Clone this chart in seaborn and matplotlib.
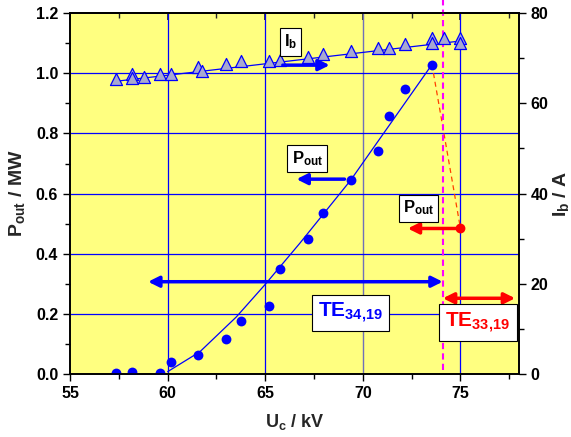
import matplotlib
matplotlib.use("Agg")
import matplotlib.pyplot as plt
import numpy as np
import pandas as pd
import seaborn as sns
from matplotlib.ticker import MultipleLocator, FormatStrFormatter

uc_pout = [57.35, 58.2, 59.6, 60.18, 61.58, 62.98, 63.78, 65.17, 65.77,
           67.18, 67.95, 69.37, 70.76, 71.36, 72.14, 73.54]
pout = [0.005, 0.008, 0.005, 0.039, 0.065, 0.115, 0.178, 0.227, 0.350,
        0.450, 0.534, 0.644, 0.742, 0.858, 0.947, 1.029]

# TE33,19 Punkt
uc_red = [75.0]
pout_red = [0.484]

# Strahlstrom
uc_ib = [57.37, 58.19, 58.19, 58.78, 59.6, 60.18, 61.58, 61.77, 62.98, 63.78,
         65.17, 65.77, 67.17, 67.95, 69.37, 70.76, 71.36, 72.14, 73.54, 73.54,
         74.14, 74.96, 74.96]
ib = [65.3, 66.5, 65.7, 65.9, 66.6, 66.6, 68.1, 67.1, 68.7, 69.4,
      69.4, 69.5, 70.2, 70.9, 71.6, 72.3, 72.3, 73.1, 74.4, 73.3,
      74.4, 74.4, 73.4]

# Ausgleichskurven
fit_pout_x = [60.0, 61.65, 63.52, 64.97, 66.76, 69.37, 73.54]
fit_pout_y = [0.008, 0.074, 0.19, 0.296, 0.434, 0.644, 1.029]
fit_ib_x = [57.37, 74.96]
fit_ib_y = [64.9, 73.8]

u_cutoff = 74.1

df_p = pd.DataFrame({"U": uc_pout, "P": pout})
df_ib = pd.DataFrame({"U": uc_ib, "I": ib})

sns.set_theme(style="ticks")
plt.rcParams["font.family"] = ["Liberation Sans", "DejaVu Sans"]
plt.rcParams["font.weight"] = "bold"
plt.rcParams["mathtext.fontset"] = "custom"
plt.rcParams["mathtext.rm"] = "Liberation Sans:bold"
plt.rcParams["mathtext.it"] = "Liberation Sans:bold"
plt.rcParams["mathtext.bf"] = "Liberation Sans:bold"
plt.rcParams["mathtext.sf"] = "Liberation Sans:bold"
plt.rcParams["mathtext.default"] = "bf"

blue = "#0000FF"
red = "#FF0000"
BF = dict(family="Liberation Sans", weight="bold")

fig = plt.figure(figsize=(5.71, 4.37), dpi=100)
ax = fig.add_axes([0.1226, 0.144, 0.7864, 0.826])
ax.set_facecolor("#FFFF80")

ax.set_xlim(55, 78)
ax.set_ylim(0, 1.2)
ax.xaxis.set_major_locator(MultipleLocator(5))
ax.xaxis.set_minor_locator(MultipleLocator(2.5))
ax.yaxis.set_major_locator(MultipleLocator(0.2))
ax.yaxis.set_minor_locator(MultipleLocator(0.1))
ax.yaxis.set_major_formatter(FormatStrFormatter("%.1f"))

# Gitter
for xv in [60, 65, 75]:
    ax.axvline(xv, color=blue, lw=0.9, zorder=1)
ax.axvline(70, color="#7070B8", lw=1.0, zorder=1)
for yv in [0.2, 0.4, 0.6, 0.8, 1.0]:
    ax.axhline(yv, color=blue, lw=0.9, zorder=1)

ax2 = ax.twinx()
ax2.set_ylim(0, 80)
ax2.yaxis.set_major_locator(MultipleLocator(20))
ax2.yaxis.set_minor_locator(MultipleLocator(10))
ax2.patch.set_visible(False)

# Kurven
ax.plot(fit_pout_x, fit_pout_y, color=blue, lw=0.9, zorder=3)
sns.scatterplot(data=df_p, x="U", y="P", ax=ax, color=blue, s=50,
                edgecolor=blue, linewidth=0, zorder=4)
sns.scatterplot(x=uc_red, y=pout_red, ax=ax, color=red, s=50,
                edgecolor=red, linewidth=0, zorder=4)
ax.plot([uc_pout[-1], uc_red[0]], [pout[-1], pout_red[0]], color="#FF4000",
        lw=0.9, ls=(0, (4, 3)), zorder=3)

ax2.plot(fit_ib_x, fit_ib_y, color=blue, lw=0.9, zorder=3)
sns.scatterplot(data=df_ib, x="U", y="I", ax=ax2, marker="^", s=75,
                color="#A8A8D0", edgecolor=blue, linewidth=0.9, zorder=4)

ax.axvline(u_cutoff, ymin=0.01, ymax=1.036, color="#FF00FF", lw=1.5,
           ls=(0, (3, 2)), clip_on=False, zorder=5)

# Pfeile
def arrow(x0, y0, x1, y1, color, both=False):
    style = "<|-|>" if both else "-|>"
    ax2.annotate("", xy=(x1, y1), xytext=(x0, y0), xycoords=ax.transData,
                 textcoords=ax.transData,
                 arrowprops=dict(arrowstyle=style, color=color, lw=2.5,
                                 mutation_scale=16, shrinkA=0, shrinkB=0),
                 zorder=6)

arrow(65.9, 1.027, 68.3, 1.027, blue)
arrow(69.06, 0.648, 66.6, 0.648, blue)
arrow(75.0, 0.484, 72.3, 0.484, red)
arrow(59.0, 0.307, 74.09, 0.307, blue, both=True)
arrow(74.1, 0.252, 77.8, 0.252, red, both=True)

box = dict(boxstyle="square,pad=0.25", fc="white", ec="black", lw=0.8)
tbox = dict(boxstyle="square,pad=0.3", fc="white", ec="black", lw=0.8)
for x, y, s in [(66.3, 1.104, r"$I_b$"), (67.15, 0.716, r"$P_{out}$"),
                (72.85, 0.552, r"$P_{out}$")]:
    ax2.text(x, y, s, transform=ax.transData, fontsize=12, ha="center",
             va="center", color="black", bbox=box, zorder=7, **BF)
ax2.text(69.37, 0.203, r"$TE_{34,\!19}$", transform=ax.transData, fontsize=15,
         ha="center", va="center", color=blue, bbox=tbox, zorder=7, **BF)
ax2.text(75.88, 0.171, r"$TE_{33,\!19}$", transform=ax.transData, fontsize=15,
         ha="center", va="center", color=red, bbox=tbox, zorder=7, **BF)

# Achsen
ax.set_xlabel(r"$U_c$ / kV", fontsize=13, labelpad=8, **BF)
ax.set_ylabel(r"$P_{out}$ / MW", fontsize=14, labelpad=6, **BF)
ax2.set_ylabel(r"$I_b$ / A", fontsize=14, labelpad=2, **BF)

for a in (ax, ax2):
    a.tick_params(which="both", direction="out", width=1, colors="black",
                  labelsize=11.5)
    a.tick_params(which="major", length=5)
    a.tick_params(which="minor", length=3.5)
    for sp in a.spines.values():
        sp.set_linewidth(1.2)
        sp.set_color("black")

top = ax.secondary_xaxis("top")
top.xaxis.set_major_locator(MultipleLocator(5))
top.xaxis.set_minor_locator(MultipleLocator(2.5))
top.tick_params(which="both", direction="in", labeltop=False)
top.tick_params(which="major", length=5)
top.tick_params(which="minor", length=3.5)

fig.canvas.draw()
for a in (ax, ax2):
    for lab in a.get_xticklabels() + a.get_yticklabels():
        lab.set_fontproperties(matplotlib.font_manager.FontProperties(
            family="Liberation Sans", weight="bold", size=11.5))

fig.savefig("out.png", dpi=100)
